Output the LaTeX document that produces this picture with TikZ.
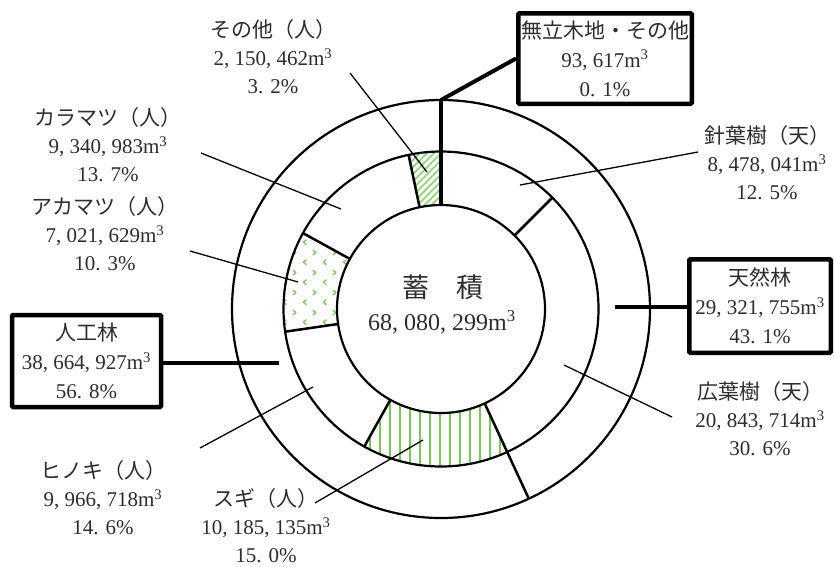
\documentclass[tikz,border=0pt]{standalone}
\usepackage{fontspec}
\setmainfont{Liberation Serif}
\newfontfamily\jp{Noto Sans CJK JP}
\usetikzlibrary{patterns.meta}
\definecolor{pgreen}{RGB}{120,200,90}
\definecolor{txt}{RGB}{45,45,45}
\newcommand{\mthree}{m\textsuperscript{3}}
\tikzdeclarepattern{
  name=chevs,
  type=uncolored,
  bounding box={(0pt,0pt) and (20pt,20pt)},
  tile size={(20pt,20pt)},
  code={
    \draw[line width=1.3pt, line cap=round, line join=round] (6.5pt,2.5pt) -- (3.5pt,5pt) -- (6.5pt,7.5pt);
    \draw[line width=1.3pt, line cap=round, line join=round] (13.5pt,12.5pt) -- (16.5pt,15pt) -- (13.5pt,17.5pt);
  }
}
\begin{document}
\begin{tikzpicture}[x=1pt,y=-1pt,
  ring/.style={line width=2.2pt},
  sepline/.style={line width=2.5pt},
  lead/.style={line width=1.3pt},
  tlead/.style={line width=4pt, line join=round},
  lbl/.style={align=center, text=txt, font=\fontsize{21}{28}\selectfont, inner sep=0pt},
  boxn/.style={draw, line width=4.5pt, align=center, text=txt, font=\fontsize{21}{29}\selectfont, inner sep=0pt, rounded corners=1pt}
]
\useasboundingbox (0,0) rectangle (835,566);
\coordinate (O) at (441,309);

% patterned segments
\fill[pattern={Lines[angle=90,distance=10pt,line width=2pt]}, pattern color=pgreen]
  plot[domain=65.16:119.16,samples=40] ({441+104*cos(\x)},{309+104*sin(\x)})
  -- plot[domain=119.16:65.16,samples=40] ({441+157.5*cos(\x)},{309+157.5*sin(\x)}) -- cycle;
\fill[pattern=chevs, pattern color=pgreen]
  plot[domain=171.72:208.8,samples=40] ({441+104*cos(\x)},{309+104*sin(\x)})
  -- plot[domain=208.8:171.72,samples=40] ({441+157.5*cos(\x)},{309+157.5*sin(\x)}) -- cycle;
\fill[pattern={Lines[angle=45,distance=5pt,line width=1.8pt]}, pattern color=pgreen!80]
  plot[domain=258.12:270,samples=20] ({441+104*cos(\x)},{309+104*sin(\x)})
  -- plot[domain=270:258.12,samples=20] ({441+157.5*cos(\x)},{309+157.5*sin(\x)}) -- cycle;

% rings
\draw[ring] (O) circle[radius=104pt];
\draw[ring] (O) circle[radius=157.5pt];
\draw[ring] (O) circle[radius=209pt];

% segment boundaries
\foreach \a/\r in {-45/157.5, 65.16/209, 119.16/157.5, 171.72/157.5, 208.8/157.5, 258.12/157.5}{
  \draw[sepline] ({441+104*cos(\a)},{309+104*sin(\a)}) -- ({441+\r*cos(\a)},{309+\r*sin(\a)});
}

% coordinates
\coordinate (itop) at (441,205);
\coordinate (otop) at (441,100);
\coordinate (jinE) at (279,363);
\coordinate (tenE) at (615,307);
\coordinate (sonA) at (350,73);   \coordinate (sonB) at (427,172);
\coordinate (karA) at (201,153);  \coordinate (karB) at (341,209);
\coordinate (akaA) at (190,251);  \coordinate (akaB) at (298,282);
\coordinate (hinA) at (200,448);  \coordinate (hinB) at (313,387);
\coordinate (sugA) at (315,503);  \coordinate (sugB) at (423,440);
\coordinate (shiA) at (520,185);  \coordinate (shiB) at (698,152);
\coordinate (kouA) at (564,365);  \coordinate (kouB) at (672,417);

% center text
\node[text=txt, font=\fontsize{27}{30}\selectfont\jp, inner sep=0pt] (chiku) at (443,287) {蓄　積};
\node[text=txt, font=\fontsize{24}{28}\selectfont, inner sep=0pt] (total) at (442,322) {68, 080, 299\mthree};

% labels
\node[lbl] (sonL) at (273,57) {{\jp その他（人）}\\2, 150, 462\mthree\\3. 2\%};
\node[lbl] (karL) at (108,145) {{\jp カラマツ（人）}\\9, 340, 983\mthree\\13. 7\%};
\node[lbl] (akaL) at (105,234) {{\jp アカマツ（人）}\\7, 021, 629\mthree\\10. 3\%};
\node[lbl] (hinL) at (103,498) {{\jp ヒノキ（人）}\\9, 966, 718\mthree\\14. 6\%};
\node[lbl] (sugL) at (266,526) {{\jp スギ（人）}\\10, 185, 135\mthree\\15. 0\%};
\node[lbl] (shiL) at (767,163) {{\jp 針葉樹（天）}\\8, 478, 041\mthree\\12. 5\%};
\node[lbl] (kouL) at (760,419) {{\jp 広葉樹（天）}\\20, 843, 714\mthree\\30. 6\%};

% boxes
\node[boxn, minimum width=149pt, minimum height=92pt] (jinB) at (86.5,361) {{\jp 人工林}\\38, 664, 927\mthree\\56. 8\%};
\node[boxn, minimum width=141.5pt, minimum height=93.5pt] (tenB) at (760,306) {{\jp 天然林}\\29, 321, 755\mthree\\43. 1\%};
\node[boxn, minimum width=173.5pt, minimum height=90.5pt] (mutB) at (605,58.5) {{\jp 無立木地・その他}\\93, 617\mthree\\0. 1\%};

% leaders
\draw[lead] (sonA) -- (sonB);
\draw[lead] (karA) -- (karB);
\draw[lead] (akaA) -- (akaB);
\draw[lead] (hinA) -- (hinB);
\draw[lead] (sugA) -- (sugB);
\draw[lead] (shiA) -- (shiB);
\draw[lead] (kouA) -- (kouB);
\draw[tlead] (jinB.east |- jinE) -- (jinE);
\draw[tlead] (tenB.west |- tenE) -- (tenE);
\draw[tlead] (mutB.west) -- (otop);
\draw[line width=3.5pt] (otop) -- (itop);
\end{tikzpicture}
\end{document}
